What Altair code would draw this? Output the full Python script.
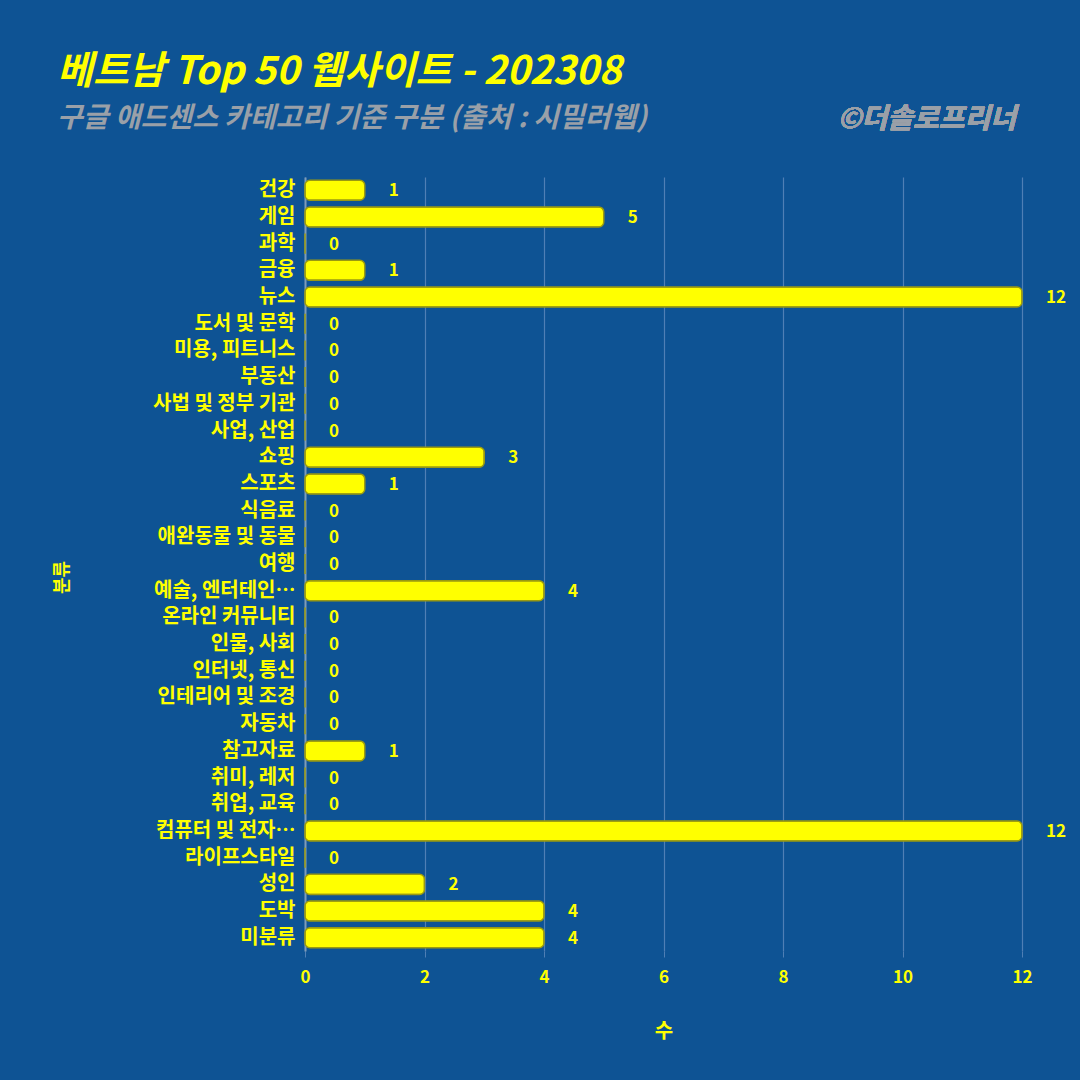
import altair as alt
import pandas as pd

categories = ["건강", "게임", "과학", "금융", "뉴스", "도서 및 문학", "미용, 피트니스", "부동산",
              "사법 및 정부 기관", "사업, 산업", "쇼핑", "스포츠", "식음료", "애완동물 및 동물", "여행",
              "예술, 엔터테인먼트", "온라인 커뮤니티", "인물, 사회", "인터넷, 통신", "인테리어 및 조경",
              "자동차", "참고자료", "취미, 레저", "취업, 교육", "컴퓨터 및 전자제품", "라이프스타일",
              "성인", "도박", "미분류"]
counts = [1, 5, 0, 1, 12, 0, 0, 0, 0, 0, 3, 1, 0, 0, 0, 4, 0, 0, 0, 0, 0, 1, 0, 0, 12, 0, 2, 4, 4]
x_ticks = [0, 2, 4, 6, 8, 10, 12]

df = pd.DataFrame({"분류": categories, "수": counts})

BG = "#0E5394"
YEL = "#FFFF00"
GRAY = "#9aa0a8"
FONT = "Noto Sans CJK KR"

y_enc = alt.Y("분류:N", sort=categories,
              scale=alt.Scale(paddingInner=0.25, paddingOuter=0.12),
              axis=alt.Axis(title="분류", labelFontSize=20, labelFontWeight="bold", labelColor=YEL,
                            labelFont=FONT, labelLimit=155, labelPadding=10, ticks=False,
                            domainColor="#7f9cb8", domainWidth=2, grid=False,
                            titleColor=YEL, titleFont=FONT, titleFontSize=18, titleFontWeight="bold",
                            titleAngle=-90, titleX=-243, titleY=400, titleAlign="center",
                            titleBaseline="middle"))
x_enc = alt.X("수:Q", scale=alt.Scale(domain=[0, 12], nice=False),
              axis=alt.Axis(title="수", values=x_ticks, format="d", labelFontSize=17,
                            labelFontWeight="bold", labelColor=YEL, labelFont=FONT, labelPadding=12,
                            labelFlush=False,
                            tickColor="#4f7fb5", tickSize=6, domain=False,
                            gridColor="#4f7fb5", gridWidth=1.2,
                            titleColor=YEL, titleFont=FONT, titleFontSize=20, titleFontWeight="bold",
                            titlePadding=36))

bars = alt.Chart(df).mark_bar(color=YEL, stroke="#9a9a10", strokeWidth=1.5, cornerRadius=5).encode(
    x=x_enc, y=y_enc)

labels = alt.Chart(df).mark_text(align="left", baseline="middle", dx=24, dy=1, fontSize=17,
                                 fontWeight="bold", color=YEL, font=FONT).encode(
    x="수:Q", y=alt.Y("분류:N", sort=categories), text="수:Q")

credit = alt.Chart(df).mark_text(align="right", baseline="middle", fontSize=28, fontStyle="italic",
                                 fontWeight="bold", color=GRAY, font=FONT).encode(
    x=alt.value(711), y=alt.value(-57), text=alt.value("©더솔로프리너"))

chart = alt.layer(bars, labels, credit).properties(
    width=717, height=774,
    background=BG,
    padding={"left": 305, "top": 177, "right": 58, "bottom": 129},
    autosize=alt.AutoSizeParams(type="none"),
    title=alt.TitleParams(
        text="베트남 Top 50 웹사이트 - 202308",
        subtitle="구글 애드센스 카테고리 기준 구분 (출처 : 시밀러웹)",
        anchor="start", frame="group", dx=-248, offset=-27,
        color=YEL, font=FONT, fontSize=39, fontWeight="bold", fontStyle="italic",
        subtitleColor=GRAY, subtitleFont=FONT, subtitleFontSize=28,
        subtitleFontWeight="bold", subtitleFontStyle="italic", subtitlePadding=13),
).configure_view(stroke=None)

chart.save("out.html", embed_options={"renderer": "svg", "actions": False})
